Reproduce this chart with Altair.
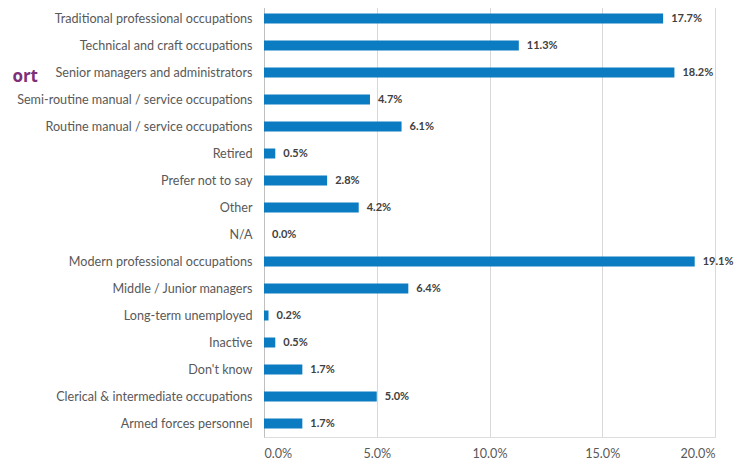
import altair as alt
import pandas as pd

categories = [
    "Traditional professional occupations",
    "Technical and craft occupations",
    "Senior managers and administrators",
    "Semi-routine manual / service occupations",
    "Routine manual / service occupations",
    "Retired",
    "Prefer not to say",
    "Other",
    "N/A",
    "Modern professional occupations",
    "Middle / Junior managers",
    "Long-term unemployed",
    "Inactive",
    "Don't know",
    "Clerical & intermediate occupations",
    "Armed forces personnel",
]
values = [17.7, 11.3, 18.2, 4.7, 6.1, 0.5, 2.8, 4.2, 0.0, 19.1, 6.4, 0.2, 0.5, 1.7, 5.0, 1.7]
ticks = [0, 0.05, 0.10, 0.15, 0.20]

df = pd.DataFrame({"cat": categories, "val": [v / 100 for v in values]})

FONT = "Lato"
ycat = alt.Y(
    "cat:N",
    sort=categories,
    title=None,
    scale=alt.Scale(paddingInner=0.63, paddingOuter=0.315),
    axis=alt.Axis(
        labelFont=FONT, labelFontSize=12.6, labelColor="#595959",
        ticks=False, domainColor="#bfbfbf", labelPadding=12, labelLimit=300,
    ),
)
xq = alt.X(
    "val:Q",
    title=None,
    scale=alt.Scale(domain=[0, 0.2], nice=False),
    axis=alt.Axis(
        values=ticks, format=".1%", labelFont=FONT, labelFontSize=12.6,
        labelColor="#595959", ticks=False, domain=False, grid=True,
        gridColor="#d9d9d9", labelPadding=10,
    ),
)

bars = alt.Chart(df).mark_bar(color="#0b7cc1").encode(x=xq, y=ycat)
labels = alt.Chart(df).mark_text(
    align="left", dx=8, font=FONT, fontSize=11, fontWeight="bold", color="#404040"
).encode(x="val:Q", y=alt.Y("cat:N", sort=categories), text=alt.Text("val:Q", format=".1%"))

title_frag = alt.Chart(pd.DataFrame({"t": ["ort"]})).mark_text(
    align="right", baseline="middle", font="Open Sans", fontSize=17, fontWeight="bold", color="#7d2f78"
).encode(x=alt.value(-226), y=alt.value(72), text="t:N")

chart = (
    alt.layer(bars, labels, title_frag)
    .properties(
        width=451, height=432,
        autosize=alt.AutoSizeParams(type="none"),
        padding={"left": 256, "top": -3, "right": 20, "bottom": 26},
    )
    .configure_view(stroke=None)
    .configure(background="white")
)

chart.save("out.html", embed_options={"renderer": "svg", "actions": False})
